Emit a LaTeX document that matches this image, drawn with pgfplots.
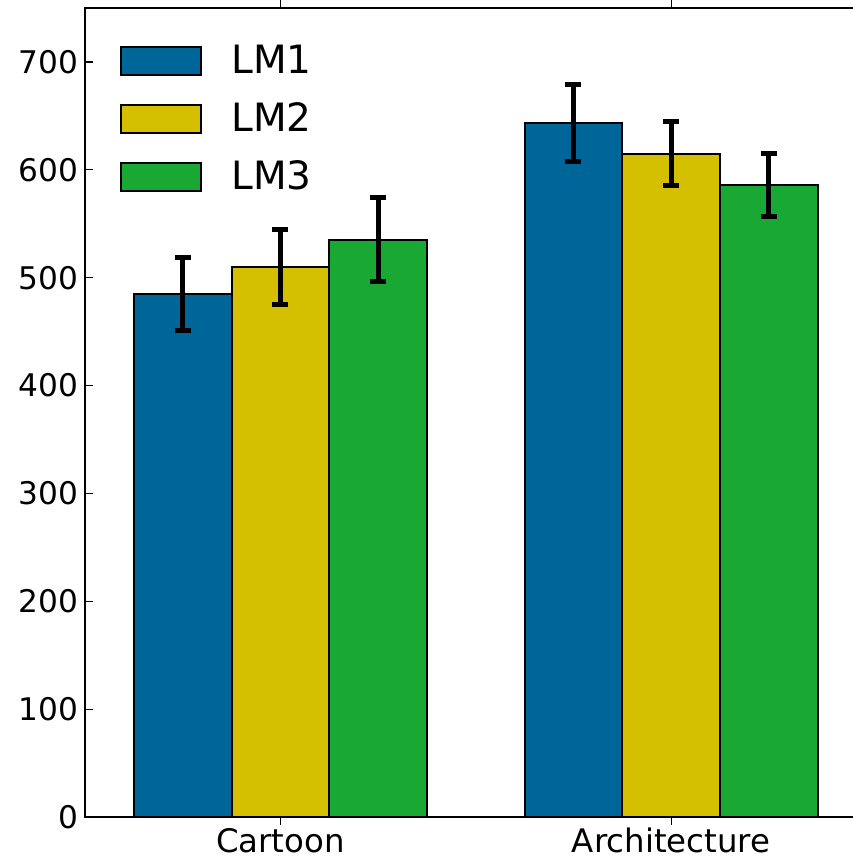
\documentclass[border=0pt]{standalone}
\usepackage{fontspec}
\setmainfont{DejaVu Sans}
\usepackage{pgfplots}
\pgfplotsset{compat=1.18}
\definecolor{cblue}{RGB}{0,102,153}
\definecolor{cyellow}{RGB}{212,192,0}
\definecolor{cgreen}{RGB}{26,168,52}
\begin{document}
\begin{tikzpicture}
\useasboundingbox (-42.5pt,-21pt) rectangle (384pt,408.5pt);
\clip (-42.5pt,-21pt) rectangle (384pt,408.5pt);
\begin{axis}[
  at={(0pt,0pt)}, anchor=south west,
  scale only axis, width=390.75pt, height=404.5pt,
  xmin=-0.5, xmax=1.5, ymin=0, ymax=750,
  xtick={0,1}, xticklabels={Cartoon,Architecture},
  ytick={0,100,...,700},
  ybar, bar width=0.25,
  major tick length=4pt,
  tick style={black, line width=0.6pt},
  axis line style={line width=1.3pt},
  yticklabel style={font=\fontsize{15.6}{18}\selectfont},
  xticklabel style={font=\fontsize{16.2}{19}\selectfont, yshift=2pt},
  /pgf/number format/assume math mode=true,
  legend style={at={(rel axis cs:0,1)}, anchor=north west, xshift=17.5pt, yshift=-18.5pt,
    draw=none, fill=none, inner sep=0pt, column sep=14.5pt, row sep=13pt,
    font=\fontsize{19.5}{23}\selectfont, nodes={inner sep=0pt}},
  legend cell align=left,
  legend image code/.code={\draw[#1,line width=1pt] (0pt,-7pt) rectangle (40pt,7pt);},
  error bars/y dir=both, error bars/y explicit,
  error bars/error bar style={line width=2.5pt,black},
  error bars/error mark options={rotate=90, line width=2.5pt, mark size=4pt, black},
]
\addplot[fill=cblue, draw=black, line width=1pt, bar shift=-0.25]
  coordinates {(0,485) +- (0,34) (1,643.5) +- (0,36)};
\addplot[fill=cyellow, draw=black, line width=1pt, bar shift=0]
  coordinates {(0,510) +- (0,35) (1,615) +- (0,30)};
\addplot[fill=cgreen, draw=black, line width=1pt, bar shift=0.25]
  coordinates {(0,535) +- (0,39) (1,586) +- (0,29)};
\legend{LM1,LM2,LM3}
\end{axis}
\end{tikzpicture}
\end{document}
